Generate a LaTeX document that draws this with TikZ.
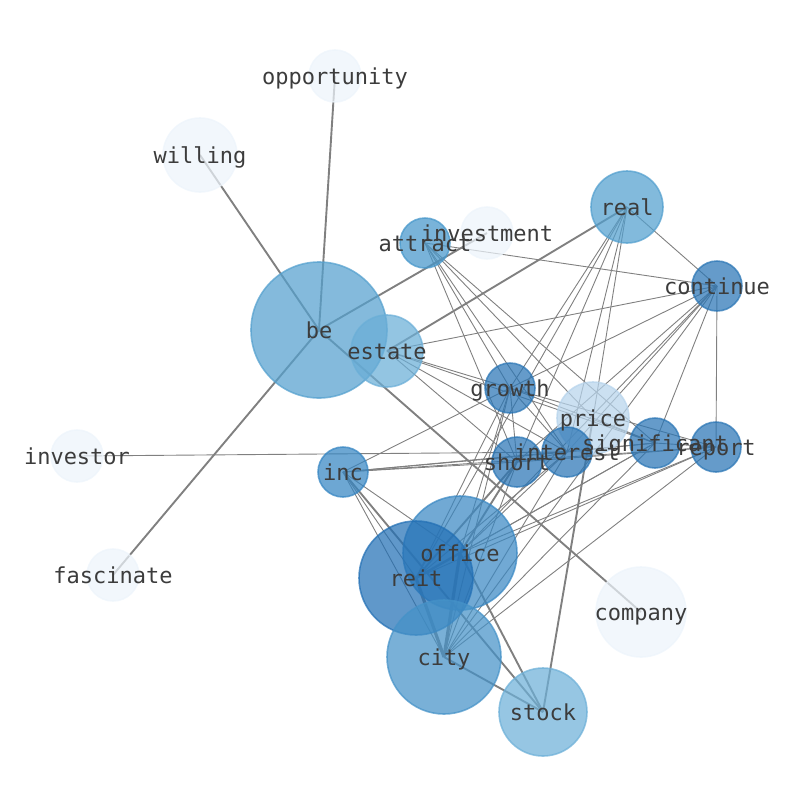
\documentclass[tikz,border=0pt]{standalone}
\usepackage{fontspec}
\newfontfamily\lblfont{DejaVu Sans Mono}
\definecolor{cLight}{HTML}{EDF4FB}
\definecolor{cPrice}{HTML}{B7D4EC}
\definecolor{cDark}{HTML}{2A75B5}
\definecolor{cReit}{HTML}{2370B5}
\definecolor{cOffice}{HTML}{3A88C3}
\definecolor{cInc}{HTML}{3585C2}
\definecolor{cCity}{HTML}{4592C8}
\definecolor{cAttract}{HTML}{4596CA}
\definecolor{cReal}{HTML}{529FCE}
\definecolor{cBe}{HTML}{54A0CE}
\definecolor{cEstate}{HTML}{6AAED7}
\definecolor{cStock}{HTML}{6DB0D8}
\definecolor{cText}{HTML}{3C3C3C}
\tikzset{
  nd/.style={circle, inner sep=0pt, fill opacity=0.72, draw opacity=0.72, line width=1.6pt},
  lbl/.style={text=cText, font=\lblfont\fontsize{22}{24}\selectfont, inner sep=0pt, text height=16pt, text depth=4pt, yshift=-2pt},
  thin/.style={draw=black!50, line width=0.9pt},
  thick/.style={draw=black!50, line width=1.9pt},
}
\begin{document}
\begin{tikzpicture}[x=1pt,y=-1pt]
\useasboundingbox (0,0) rectangle (794,790);
% coordinates of node centres
\coordinate (opportunity) at (335,76);
\coordinate (willing) at (200,155);
\coordinate (investment) at (487,233);
\coordinate (attract) at (425,243);
\coordinate (real) at (627,207);
\coordinate (continue) at (717,286);
\coordinate (be) at (319,330);
\coordinate (estate) at (387,351);
\coordinate (growth) at (510,388);
\coordinate (price) at (593,418);
\coordinate (significant) at (655,443);
\coordinate (report) at (716,447);
\coordinate (interest) at (567,452);
\coordinate (short) at (517,462);
\coordinate (inc) at (343,472);
\coordinate (investor) at (77,456);
\coordinate (fascinate) at (113,575);
\coordinate (office) at (460,553);
\coordinate (reit) at (416,578);
\coordinate (company) at (641,612);
\coordinate (city) at (444,657);
\coordinate (stock) at (543,712);
% thin edges
\foreach \a/\b in {attract/continue, attract/short, attract/growth, attract/interest, attract/significant, attract/price,
  real/continue, real/growth, real/short, real/interest, real/price, real/reit,
  continue/estate, continue/growth, continue/short, continue/interest, continue/significant, continue/report, continue/office, continue/city,
  growth/estate, growth/inc, growth/short, growth/interest, growth/significant, growth/report, growth/office, growth/city,
  estate/interest, estate/short, estate/significant,
  investor/interest,
  inc/short, inc/interest, inc/significant, inc/report, inc/office, inc/city, inc/reit,
  office/interest, office/significant, office/report,
  reit/interest, reit/significant, reit/report, reit/growth,
  city/report, city/significant, city/short, city/interest,
  short/interest, interest/significant, significant/report, short/report, price/significant}
  \draw[thin] (\a) -- (\b);
% thick edges
\foreach \a/\b in {be/opportunity, be/willing, be/fascinate, be/company, be/investment,
  estate/real, stock/price, stock/city, stock/inc, stock/office, reit/short, office/short}
  \draw[thick] (\a) -- (\b);
\draw[draw=black!50, line width=3.2pt] (reit) -- (city);
\draw[draw=black!50, line width=3.2pt] (office) -- (city);
\draw[draw=black!50, line width=2.4pt] (reit) -- (office);
% nodes
\node[nd, fill=cLight, draw=cLight, minimum size=52pt] (nOpportunity) at (opportunity) {};
\node[nd, fill=cLight, draw=cLight, minimum size=74pt] (nWilling) at (willing) {};
\node[nd, fill=cLight, draw=cLight, minimum size=52pt] (nInvestment) at (investment) {};
\node[nd, fill=cAttract, draw=cAttract, minimum size=50pt] (nAttract) at (attract) {};
\node[nd, fill=cReal, draw=cReal, minimum size=72pt] (nReal) at (real) {};
\node[nd, fill=cDark, draw=cDark, minimum size=50pt] (nContinue) at (continue) {};
\node[nd, fill=cBe, draw=cBe, minimum size=136pt] (nBe) at (be) {};
\node[nd, fill=cEstate, draw=cEstate, minimum size=72pt] (nEstate) at (estate) {};
\node[nd, fill=cDark, draw=cDark, minimum size=50pt] (nGrowth) at (growth) {};
\node[nd, fill=cPrice, draw=cPrice, minimum size=72pt] (nPrice) at (price) {};
\node[nd, fill=cDark, draw=cDark, minimum size=50pt] (nSignificant) at (significant) {};
\node[nd, fill=cDark, draw=cDark, minimum size=50pt] (nReport) at (report) {};
\node[nd, fill=cDark, draw=cDark, minimum size=50pt] (nInterest) at (interest) {};
\node[nd, fill=cDark, draw=cDark, minimum size=50pt] (nShort) at (short) {};
\node[nd, fill=cInc, draw=cInc, minimum size=50pt] (nInc) at (inc) {};
\node[nd, fill=cLight, draw=cLight, minimum size=52pt] (nInvestor) at (investor) {};
\node[nd, fill=cLight, draw=cLight, minimum size=52pt] (nFascinate) at (fascinate) {};
\node[nd, fill=cOffice, draw=cOffice, minimum size=114pt] (nOffice) at (office) {};
\node[nd, fill=cReit, draw=cReit, minimum size=114pt] (nReit) at (reit) {};
\node[nd, fill=cLight, draw=cLight, minimum size=90pt] (nCompany) at (company) {};
\node[nd, fill=cCity, draw=cCity, minimum size=114pt] (nCity) at (city) {};
\node[nd, fill=cStock, draw=cStock, minimum size=88pt] (nStock) at (stock) {};
% labels
\foreach \c/\t in {opportunity/opportunity, willing/willing, investment/investment, attract/attract, real/real,
  continue/continue, be/be, estate/estate, growth/growth, price/price, significant/significant, report/report,
  interest/interest, short/short, inc/inc, investor/investor, fascinate/fascinate, office/office, reit/reit,
  company/company, city/city, stock/stock}
  \node[lbl] (t\c) at (\c) {\t};
\end{tikzpicture}
\end{document}
